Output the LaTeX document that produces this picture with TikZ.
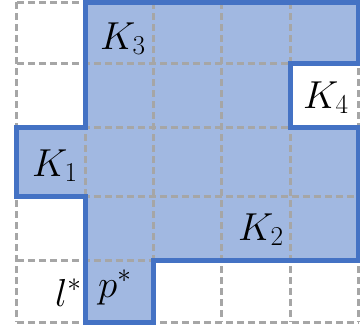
\RequirePackage{fix-cm}
\documentclass[tikz,border=0pt]{standalone}
\definecolor{kblue}{HTML}{4472C4}
\definecolor{kfill}{HTML}{A1B8E1}
\definecolor{kgrid}{HTML}{A6A6A6}
\begin{document}
\begin{tikzpicture}[x=1pt,y=-1pt,
  gridline/.style={kgrid, line width=3pt, dash pattern=on 7pt off 4pt},
  outline/.style={kblue, line width=5pt, line join=miter},
  lab/.style={inner sep=0pt, anchor=base west, font=\fontsize{39}{41}\selectfont}]
\useasboundingbox (0,0) rectangle (360,333);
\def\regionpath{(86,2) -- (359,2) -- (359,63.5) -- (291,63.5) -- (291,127) -- (359,127) -- (359,260) -- (154,260) -- (154,322) -- (86,322) -- (86,196) -- (17,196) -- (17,127) -- (86,127) -- cycle}
\fill[kfill] \regionpath;
\foreach \x in {17,86,154,222,291,359} \draw[gridline] (\x,2) -- (\x,322);
\foreach \y in {2,63.5,127,196,260,322} \draw[gridline] (17,\y) -- (359,\y);
\draw[outline] \regionpath;
\node[lab] (k3) at (100,49) {$K_3$};
\node[lab] (k4) at (303,108) {$K_4$};
\node[lab] (k1) at (32,176) {$K_1$};
\node[lab] (k2) at (238,240) {$K_2$};
\node[lab] (ls) at (55,306) {$l^*$};
\node[lab] (ps) at (98,297) {$p^*$};
\end{tikzpicture}
\end{document}
